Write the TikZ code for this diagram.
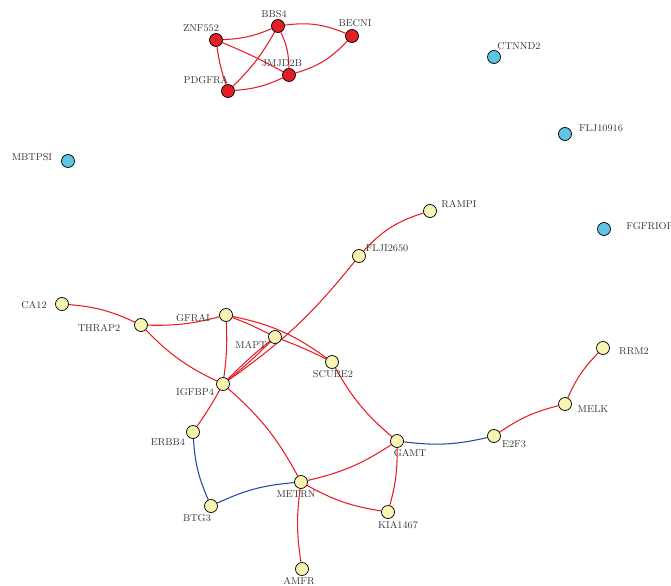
\documentclass[tikz,border=0pt]{standalone}
\usepackage{tikz}
\usetikzlibrary{positioning,backgrounds}
\definecolor{gred}{RGB}{228,30,38}
\definecolor{gcyan}{RGB}{94,198,228}
\definecolor{gyel}{RGB}{248,244,178}
\definecolor{ered}{RGB}{232,28,36}
\definecolor{eblue}{RGB}{36,72,160}
\tikzset{gnode/.style={circle, draw=black, line width=0.6pt, minimum size=0.39cm, inner sep=0pt}}
\tikzset{rnode/.style={gnode, fill=gred}}
\tikzset{cnode/.style={gnode, fill=gcyan}}
\tikzset{ynode/.style={gnode, fill=gyel}}
\tikzset{lbl/.style={inner sep=0pt, text=black!80, font=\fontsize{8.5}{10}\selectfont}}
\tikzset{redge/.style={draw=ered, line width=0.9pt}}
\tikzset{bedge/.style={draw=eblue, line width=0.9pt}}
% gene node and its label: style, name, x, y, label shift x, label shift y
\newcommand{\gene}[6]{\node[#1] (#2) at (#3,#4) {};
	\node[lbl] (#2-l) at ([shift={(#5,#6)}]#2) {#2};}
\begin{document}
\begin{tikzpicture}[x=0.03cm, y=-0.03cm]
			\useasboundingbox (0,0) rectangle (671,585);
			%
			\gene{rnode}{BBS4}{278}{26}{-4}{-12}
			\gene{rnode}{ZNF552}{216}{40}{-15}{-12}
			\gene{rnode}{BECNI}{352}{36}{3}{-13}
			\gene{rnode}{JMJD2B}{289}{75}{-7}{-12}
			\gene{rnode}{PDGFRA}{228}{91}{-22}{-11}
			%
			\gene{cnode}{CTNND2}{494}{57}{25}{-11}
			\gene{cnode}{FLJ10916}{565}{134}{36}{-6}
			\gene{cnode}{MBTPSI}{68}{161}{-36}{-4}
			\gene{cnode}{FGFRIOP}{604}{229}{46}{-3}
			%
			\gene{ynode}{RAMPI}{430}{211}{29}{-7}
			\gene{ynode}{FLJI2650}{359}{256}{28}{-8}
			\gene{ynode}{CA12}{62}{304}{-28}{1}
			\gene{ynode}{THRAP2}{141}{325}{-42}{3}
			\gene{ynode}{GFRAI}{226}{315}{-33}{3}
			\gene{ynode}{MAPT}{275}{337}{-24}{8}
			\gene{ynode}{SCUBE2}{332}{362}{1}{12}
			\gene{ynode}{IGFBP4}{223}{384}{-28}{8}
			\gene{ynode}{ERBB4}{193}{432}{-25}{10}
			\gene{ynode}{GAMT}{397}{441}{13}{12}
			\gene{ynode}{E2F3}{494}{436}{20}{8}
			\gene{ynode}{MELK}{565}{404}{28}{5}
			\gene{ynode}{RRM2}{603}{348}{31}{3}
			\gene{ynode}{METRN}{301}{482}{-5}{12}
			\gene{ynode}{BTG3}{211}{506}{-14}{12}
			\gene{ynode}{KIA1467}{388}{512}{10}{13}
			\gene{ynode}{AMFR}{302}{569}{-3}{12}
			%
			\begin{scope}[on background layer]
			\draw[redge] (ZNF552) to[bend right=10] (BBS4);
			\draw[redge] (BBS4) to[bend left=15] (BECNI);
			\draw[redge] (ZNF552) to[bend right=5] (PDGFRA);
			\draw[redge] (ZNF552) to[bend left=3] (JMJD2B);
			\draw[redge] (BBS4) to[bend left=8] (PDGFRA);
			\draw[redge] (BBS4) to[bend left=12] (JMJD2B);
			\draw[redge] (PDGFRA) to[bend right=10] (JMJD2B);
			\draw[redge] (JMJD2B) to[bend right=15] (BECNI);
			%
			\draw[redge] (RAMPI) to[bend right=15] (FLJI2650);
			\draw[redge] (FLJI2650) to[bend left=8] (IGFBP4);
			\draw[redge] (CA12) to[bend left=10] (THRAP2);
			\draw[redge] (THRAP2) to[bend right=8] (GFRAI);
			\draw[redge] (THRAP2) to[bend right=10] (IGFBP4);
			\draw[redge] (GFRAI) to[bend left=5] (IGFBP4);
			\draw[redge] (GFRAI) to[bend left=3] (MAPT);
			\draw[redge] (GFRAI) to[bend left=12] (SCUBE2);
			\draw[redge] (MAPT) to[bend left=3] (SCUBE2);
			\draw[redge] (IGFBP4) to[bend left=3] (MAPT);
			\draw[redge] (IGFBP4) to[bend right=3] (MAPT);
			\draw[redge] (SCUBE2) to[bend right=10] (GAMT);
			\draw[redge] (IGFBP4) to[bend left=3] (ERBB4);
			\draw[redge] (IGFBP4) to[bend left=10] (METRN);
			\draw[redge] (METRN) to[bend right=10] (GAMT);
			\draw[redge] (METRN) to[bend right=10] (KIA1467);
			\draw[redge] (METRN) to[bend right=8] (AMFR);
			\draw[redge] (GAMT) to[bend left=8] (KIA1467);
			\draw[redge] (E2F3) to[bend left=10] (MELK);
			\draw[redge] (MELK) to[bend left=10] (RRM2);
			%
			\draw[bedge] (ERBB4) to[bend right=10] (BTG3);
			\draw[bedge] (BTG3) to[bend left=10] (METRN);
			\draw[bedge] (GAMT) to[bend right=10] (E2F3);
			\end{scope}
\end{tikzpicture}
\end{document}
